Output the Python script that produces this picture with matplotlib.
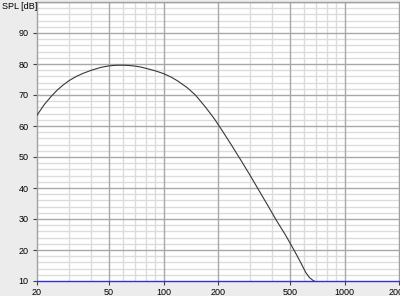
import numpy as np
import matplotlib
matplotlib.use("Agg")
import matplotlib.pyplot as plt
from matplotlib.ticker import FixedLocator, NullFormatter

# frequency response
freq = [20, 22, 24, 26, 28, 30, 33, 36, 40, 45, 50, 55, 60, 65, 70, 75, 80, 90,
        100, 110, 120, 135, 150, 170, 190, 210, 240, 270, 300, 340, 380, 420,
        470, 520, 570, 610, 640, 670, 700]
spl = [63.5, 67.0, 69.6, 71.7, 73.3, 74.6, 76.0, 77.0, 78.0, 78.9, 79.4, 79.6,
       79.6, 79.5, 79.3, 79.0, 78.6, 77.8, 76.9, 75.8, 74.5, 72.4, 70.0, 66.2,
       62.5, 58.7, 53.4, 48.6, 44.2, 38.8, 34.0, 29.6, 25.0, 20.5, 16.2, 12.8,
       11.1, 10.2, 9.6]

x_major = [20, 50, 100, 200, 500, 1000, 2000]
x_labels = ["20", "50", "100", "200", "500", "1000", "2000"]
x_minor = [30, 40, 60, 70, 80, 90, 300, 400, 600, 700, 800, 900]
y_major = [10, 20, 30, 40, 50, 60, 70, 80, 90]

plt.rcParams['font.family'] = ['Liberation Sans', 'DejaVu Sans']

fig = plt.figure(figsize=(4, 2.96), dpi=100, facecolor='#ececec')
ax = fig.add_axes([37/400, 1 - 281/296, 362/400, 279/296])
ax.set_facecolor('white')

ax.set_xscale('log')
ax.set_xlim(20, 2000)
ax.set_ylim(10, 100)

# grid
for f in x_minor:
    ax.axvline(f, color='#dcdcdc', lw=1.0, zorder=1)
for f in x_major[1:-1]:
    ax.axvline(f, color='#a8a8a8', lw=1.0, zorder=2)
for v in np.arange(12, 100, 2):
    if v % 10:
        ax.axhline(v, color='#dcdcdc', lw=1.0, zorder=1)
for v in y_major[1:] + [100]:
    ax.axhline(v, color='#a8a8a8', lw=1.0, zorder=2)

ax.plot(freq, spl, color='#383838', lw=0.8, zorder=3)

ax.xaxis.set_major_locator(FixedLocator(x_major))
ax.xaxis.set_minor_locator(FixedLocator([]))
ax.xaxis.set_minor_formatter(NullFormatter())
ax.set_xticklabels(x_labels)
ax.set_yticks(y_major)
ax.set_yticklabels([str(v) for v in y_major])
ax.tick_params(axis='both', labelsize=6.5, length=3, width=0.8, color='#404040', pad=2)
ax.tick_params(axis='y', pad=3)

for s in ['top', 'right', 'left']:
    ax.spines[s].set_color('#a0a0a0')
    ax.spines[s].set_linewidth(1.0)
ax.spines['bottom'].set_color('#3030d8')
ax.spines['bottom'].set_linewidth(1.0)
ax.spines['bottom'].set_zorder(4)

fig.text(2/400, 1 - 9/296, "SPL [dB]", fontsize=6.5, ha='left', va='baseline')

fig.savefig("out.png", dpi=100, facecolor=fig.get_facecolor())
